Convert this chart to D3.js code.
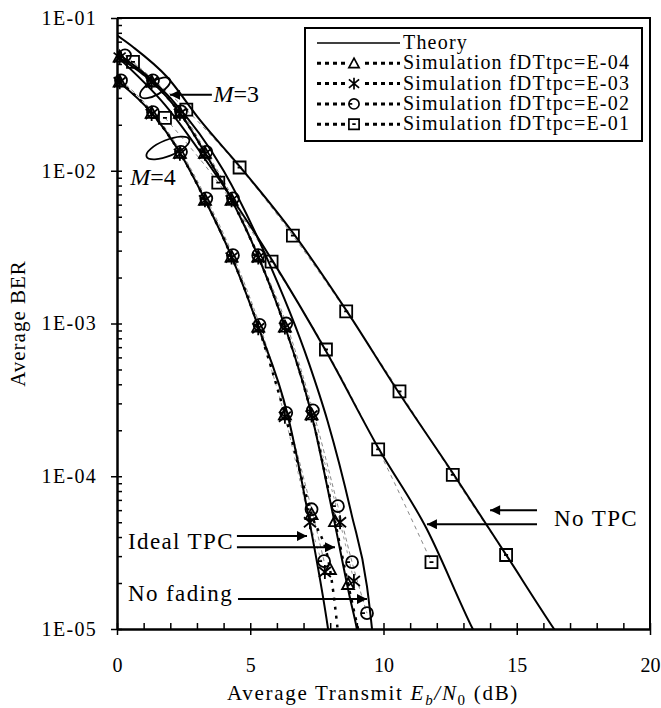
<!DOCTYPE html>
<html>
<head>
<meta charset="utf-8">
<script src="https://cdn.jsdelivr.net/npm/d3@7"></script>
<style>
body { margin: 0; background: #fff; }
text { font-family: "Liberation Serif", "Times New Roman", serif; fill: #000; }
</style>
</head>
<body>
<script>
// x = average transmit Eb/N0 (dB), y = average BER
let xTickLabels = [0, 5, 10, 15, 20];
let yTickLabels = ["1E-01", "1E-02", "1E-03", "1E-04", "1E-05"];
let legendLabels = ["Theory", "Simulation fDTtpc=E-04", "Simulation fDTtpc=E-03", "Simulation fDTtpc=E-02", "Simulation fDTtpc=E-01"];

// theory curves
let theoryM4Ideal = [[0, 3.9e-2], [1.3, 2.39e-2], [2.36, 1.31e-2], [3.3, 6.46e-3], [4.3, 2.74e-3], [5.3, 9.55e-4], [6.4, 2.54e-4], [7.17, 5.65e-5], [7.92, 1e-5], [8.1, 6e-6]];
let theoryM3Ideal = [[0, 5.6e-2], [1.3, 3.84e-2], [2.36, 2.39e-2], [3.3, 1.31e-2], [4.3, 6.46e-3], [5.3, 2.74e-3], [6.3, 9.55e-4], [7.3, 2.54e-4], [8.1, 5.65e-5], [8.74, 1.6e-5], [9.0, 1e-5], [9.2, 6e-6]];
let theoryNoFading = [[0, 5.9e-2], [2, 3.0e-2], [4, 1.0e-2], [5.5, 3.0e-3], [7.2, 5.5e-4], [7.9, 2.3e-4], [8.8, 5.65e-5], [9.38, 1.9e-5], [9.57, 1e-5], [9.7, 6e-6]];
let theoryM4NoTPC = [[0, 5.6e-2], [1.8, 2.7e-2], [3.79, 9.0e-3], [5.82, 2.6e-3], [7.84, 6.6e-4], [9.79, 1.55e-4], [11.6, 4.6e-5], [13.35, 1e-5], [14, 6e-6]];
let theoryM3NoTPC = [[0, 7.7e-2], [0.6, 6.46e-2], [1.88, 4.11e-2], [3.11, 2.15e-2], [4.62, 1.06e-2], [6.57, 3.99e-3], [8.63, 1.2e-3], [10.54, 3.6e-4], [12.6, 1.05e-4], [14.56, 3.14e-5], [16.4, 1e-5], [17, 7e-6]];

// simulations, M=3
let m3E04 = [[0.1, 5.58e-2], [1.3, 3.84e-2], [2.36, 2.39e-2], [3.3, 1.31e-2], [4.3, 6.46e-3], [5.3, 2.74e-3], [6.3, 9.55e-4], [7.3, 2.54e-4], [8.18, 5.08e-5], [8.67, 1.97e-5], [9.45, 5e-6]];
let m3E03 = [[0.1, 5.5e-2], [1.3, 3.8e-2], [2.36, 2.36e-2], [3.3, 1.29e-2], [4.3, 6.4e-3], [5.3, 2.7e-3], [6.3, 9.4e-4], [7.3, 2.5e-4], [8.37, 5.0e-5], [8.89, 2.06e-5]];
let m3E02 = [[0.3, 5.7e-2], [1.35, 3.9e-2], [2.4, 2.45e-2], [3.35, 1.33e-2], [4.35, 6.6e-3], [5.3, 2.8e-3], [6.35, 1.0e-3], [7.35, 2.7e-4], [8.29, 6.37e-5], [8.82, 2.74e-5], [9.38, 1.27e-5]];
let m3E01 = [[0.6, 5.16e-2], [2.6, 2.51e-2], [4.6, 1.05e-2], [6.6, 3.76e-3], [8.6, 1.2e-3], [10.6, 3.59e-4], [12.6, 1.02e-4], [14.6, 3.05e-5]];

// simulations, M=4
let m4E04 = [[0.1, 3.84e-2], [1.3, 2.39e-2], [2.36, 1.31e-2], [3.3, 6.46e-3], [4.3, 2.74e-3], [5.3, 9.55e-4], [6.3, 2.54e-4], [7.3, 5.65e-5], [7.99, 2.47e-5], [8.5, 4.2e-6]];
let m4E03 = [[0.1, 3.8e-2], [1.3, 2.35e-2], [2.36, 1.29e-2], [3.3, 6.4e-3], [4.3, 2.7e-3], [5.3, 9.3e-4], [6.3, 2.45e-4], [7.24, 5.0e-5], [7.8, 2.36e-5]];
let m4E02 = [[0.15, 3.9e-2], [1.35, 2.42e-2], [2.4, 1.33e-2], [3.35, 6.6e-3], [4.35, 2.8e-3], [5.35, 9.8e-4], [6.35, 2.6e-4], [7.3, 6.08e-5], [7.77, 2.78e-5]];
let m4E01 = [[1.8, 2.22e-2], [3.8, 8.35e-3], [5.8, 2.54e-3], [7.84, 6.76e-4], [9.8, 1.5e-4], [11.8, 2.74e-5]];

let width = 661,
    height = 708,
    margin = {top: 18, right: 11, bottom: 79, left: 117};

let svg = d3.select("body").append("svg").attr("width", width).attr("height", height);

let x = d3.scaleLinear().domain([0, 20]).range([margin.left, width - margin.right]);
let y = d3.scaleLog().domain([1e-5, 1e-1]).range([height - margin.bottom, margin.top]);

let defs = svg.append("defs");
defs.append("clipPath").attr("id", "plotclip").append("rect")
    .attr("x", x(0)).attr("y", y(1e-1)).attr("width", x(20) - x(0)).attr("height", y(1e-5) - y(1e-1));
defs.append("clipPath").attr("id", "markclip").append("rect")
    .attr("x", x(0) - 10).attr("y", y(1e-1)).attr("width", x(20) - x(0) + 20).attr("height", y(1e-5) - y(1e-1) + 6);
defs.append("marker").attr("id", "arrow")
    .attr("viewBox", "0 0 10 10").attr("refX", 10).attr("refY", 5)
    .attr("markerWidth", 14).attr("markerHeight", 10).attr("markerUnits", "userSpaceOnUse")
    .attr("orient", "auto")
  .append("path").attr("d", "M0,0L10,5L0,10z").attr("fill", "#000");

// frame
svg.append("path")
    .attr("d", "M" + x(0) + "," + y(1e-1) + "H" + x(20) + "V" + y(1e-5))
    .attr("fill", "none").attr("stroke", "#000").attr("stroke-width", 2);

// axes
let isMajor = d => Math.abs(Math.log10(d) - Math.round(Math.log10(d))) < 1e-6;
let yTicks = [];
for (let e = -5; e < -1; e++) for (let m = 1; m < 10; m++) yTicks.push(m * Math.pow(10, e));
yTicks.push(1e-1);

let gy = svg.append("g").attr("transform", "translate(" + x(0) + ",0)")
    .call(d3.axisLeft(y).tickValues(yTicks).tickSizeOuter(0).tickPadding(14)
        .tickFormat(d => isMajor(d) ? yTickLabels[-Math.round(Math.log10(d)) - 1] : ""));
gy.select(".domain").attr("stroke-width", 2.5);
gy.selectAll(".tick line").attr("x1", d => isMajor(d) ? -6 : 0).attr("x2", 5).attr("stroke-width", 1.5);
gy.selectAll(".tick text").style("font-size", "20px").style("letter-spacing", "1.3px");

let gx = svg.append("g").attr("transform", "translate(0," + y(1e-5) + ")")
    .call(d3.axisBottom(x).tickValues(d3.range(0, 21)).tickSizeOuter(0).tickPadding(23)
        .tickFormat(d => xTickLabels.indexOf(d) >= 0 ? d : ""));
gx.select(".domain").attr("stroke-width", 2.5);
gx.selectAll(".tick line").attr("y1", -6).attr("y2", d => d % 5 === 0 ? 6 : 0).attr("stroke-width", 1.5);
gx.selectAll(".tick text").style("font-size", "20px");

// axis titles
svg.append("text")
    .attr("transform", "translate(25," + (y(1e-3)) + ") rotate(-90)")
    .attr("text-anchor", "middle").style("font-size", "21px").style("letter-spacing", "1px")
    .text("Average BER");

let xt = svg.append("text").attr("x", 373).attr("y", 700)
    .attr("text-anchor", "middle").style("font-size", "21px").style("letter-spacing", "1.7px");
xt.append("tspan").text("Average Transmit ");
xt.append("tspan").style("font-style", "italic").text("E");
xt.append("tspan").attr("dy", 5).style("font-size", "15px").style("font-style", "italic").text("b");
xt.append("tspan").attr("dy", -5).style("font-style", "italic").text("/N");
xt.append("tspan").attr("dy", 5).style("font-size", "15px").text("0");
xt.append("tspan").attr("dy", -5).text(" (dB)");

// lines
let line = d3.line().x(d => x(d[0])).y(d => y(d[1])).curve(d3.curveMonotoneX);
let plot = svg.append("g").attr("clip-path", "url(#plotclip)");

let simLines = [
    {data: m3E01, stroke: "#888", width: 1, dash: "4,4"},
    {data: m4E01, stroke: "#888", width: 1, dash: "4,4"},
    {data: m3E02, stroke: "#888", width: 1, dash: "4,3"},
    {data: m4E02, stroke: "#888", width: 1, dash: "4,3"},
    {data: m3E03, stroke: "#999", width: 1, dash: "3,4"},
    {data: m4E03, stroke: "#999", width: 1, dash: "3,4"},
    {data: m3E04, stroke: "#000", width: 2.5, dash: "3,6"},
    {data: m4E04, stroke: "#000", width: 2.5, dash: "3,6"}
];
simLines.forEach(s => {
    plot.append("path").datum(s.data)
        .attr("fill", "none").attr("stroke", s.stroke).attr("stroke-width", s.width)
        .attr("stroke-dasharray", s.dash).attr("d", line);
});

[theoryM4Ideal, theoryM3Ideal, theoryNoFading, theoryM4NoTPC, theoryM3NoTPC].forEach(t => {
    plot.append("path").datum(t)
        .attr("fill", "none").attr("stroke", "#000").attr("stroke-width", 2)
        .attr("d", line);
});

// markers
let symbols = {
    tri: "M0,-6L6,5L-6,5Z",
    star: "M0,-7V7M-6,-5L6,5M-6,5L6,-5",
    circ: "M6,0A6,6 0 1,1 -6,0A6,6 0 1,1 6,0M-6,0H-2",
    sq: "M-6,-6H6V6H-6ZM-2,0H2"
};
let marks = svg.append("g").attr("clip-path", "url(#markclip)");
function drawMarks(data, sym) {
    marks.append("g").selectAll("path").data(data).join("path")
        .attr("transform", d => "translate(" + x(d[0]) + "," + y(d[1]) + ")")
        .attr("d", symbols[sym])
        .attr("fill", "none").attr("stroke", "#000").attr("stroke-width", 1.8);
}
drawMarks(m3E01, "sq"); drawMarks(m4E01, "sq");
drawMarks(m3E02, "circ"); drawMarks(m4E02, "circ");
drawMarks(m3E03, "star"); drawMarks(m4E03, "star");
drawMarks(m3E04, "tri"); drawMarks(m4E04, "tri");

// annotations (data coordinates)
let arrows = [
    [[3.56, 3.14e-2], [1.99, 3.14e-2]],
    [[4.5, 4.06e-5], [7.13, 4.06e-5]],
    [[4.5, 3.43e-5], [8.18, 3.43e-5]],
    [[4.54, 1.57e-5], [9.38, 1.57e-5]],
    [[15.76, 6.0e-5], [14.0, 6.0e-5]],
    [[15.76, 4.85e-5], [11.63, 4.85e-5]]
];
arrows.forEach(a => {
    svg.append("line")
        .attr("x1", x(a[0][0])).attr("y1", y(a[0][1]))
        .attr("x2", x(a[1][0])).attr("y2", y(a[1][1]))
        .attr("stroke", "#000").attr("stroke-width", 2).attr("marker-end", "url(#arrow)");
});

let ellipses = [[1.43, 3.49e-2, 17, 7, -30], [1.91, 1.41e-2, 23, 8, -22]];
ellipses.forEach(e => {
    svg.append("ellipse")
        .attr("transform", "translate(" + x(e[0]) + "," + y(e[1]) + ") rotate(" + e[4] + ")")
        .attr("rx", e[2]).attr("ry", e[3])
        .attr("fill", "none").attr("stroke", "#000").attr("stroke-width", 1.8);
});

let mText = [[3.62, 2.82e-2, "3"], [0.5, 8.1e-3, "4"]];
mText.forEach(m => {
    let t = svg.append("text").attr("x", x(m[0])).attr("y", y(m[1])).style("font-size", "24px");
    t.append("tspan").style("font-style", "italic").text("M");
    t.append("tspan").text("=" + m[2]);
});

let labels = [[0.41, 3.33e-5, "Ideal TPC"], [0.41, 1.52e-5, "No fading"], [16.4, 4.7e-5, "No TPC"]];
labels.forEach(l => {
    svg.append("text").attr("x", x(l[0])).attr("y", y(l[1]))
        .style("font-size", "23px").style("letter-spacing", "1.4px").text(l[2]);
});

// legend
let lg = svg.append("g");
lg.append("rect").attr("x", 305).attr("y", 28).attr("width", 337).attr("height", 113)
    .attr("fill", "#fff").attr("stroke", "#000").attr("stroke-width", 2);
let legendSyms = [null, "tri", "star", "circ", "sq"];
legendLabels.forEach((lab, i) => {
    let ly = 43 + i * 20.3;
    lg.append("line").attr("x1", 317).attr("x2", 400).attr("y1", ly).attr("y2", ly)
        .attr("stroke", "#000").attr("stroke-width", i === 0 ? 1.5 : 3)
        .attr("stroke-dasharray", i === 0 ? null : "4,4");
    if (legendSyms[i]) {
        lg.append("rect").attr("x", 347).attr("y", ly - 8).attr("width", 14).attr("height", 16).attr("fill", "#fff");
        lg.append("path").attr("transform", "translate(354," + ly + ") scale(0.85)")
            .attr("d", symbols[legendSyms[i]]).attr("fill", "none").attr("stroke", "#000").attr("stroke-width", 2);
    }
    lg.append("text").attr("x", 403).attr("y", ly + 6)
        .style("font-size", "20px").style("letter-spacing", "1.2px").text(lab);
});
</script>
</body>
</html>
